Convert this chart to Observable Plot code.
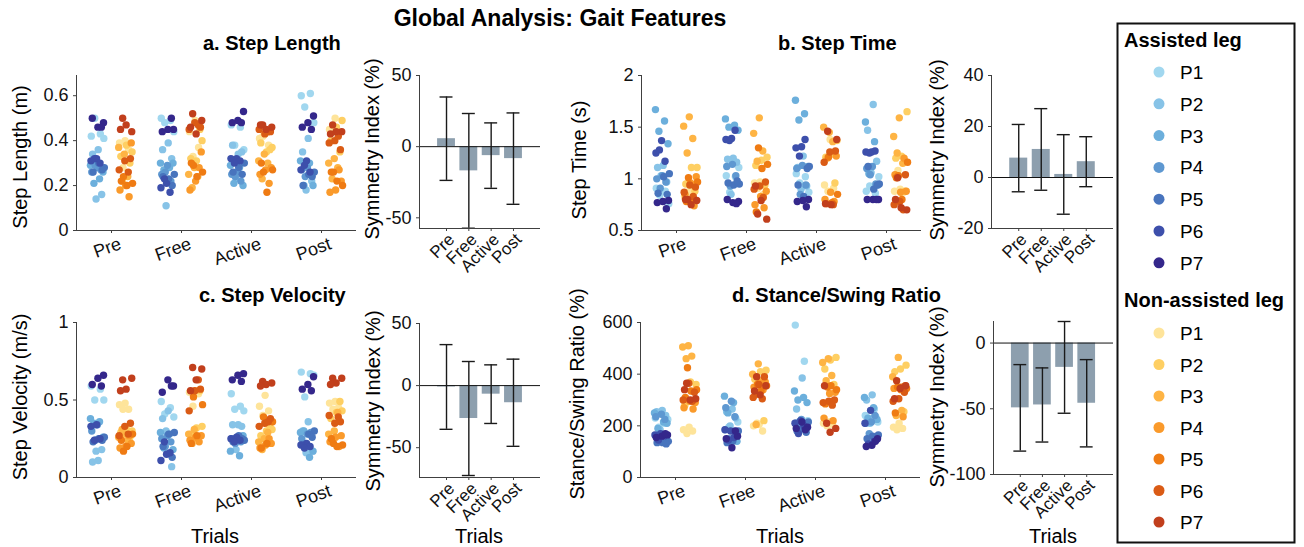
<!DOCTYPE html>
<html>
<head>
<meta charset="utf-8">
<script src="https://cdn.jsdelivr.net/npm/d3@7"></script>
<script src="https://cdn.jsdelivr.net/npm/@observablehq/plot@0.6"></script>
<style>
  html, body { margin: 0; padding: 0; background: #ffffff; }
  #root { position: relative; width: 1304px; height: 547px; overflow: hidden; background: #ffffff;
          font-family: "Liberation Sans", Arial, Helvetica, sans-serif; }
</style>
</head>
<body>
<div id="root"></div>
<script>
// ---------------- data ----------------
const trials = ["Pre", "Free", "Active", "Post"];
const participants = ["P1", "P2", "P3", "P4", "P5", "P6", "P7"];
const assistedColors = ["#a1d7ef", "#87c3e7", "#6cafdc", "#5e98d1", "#4874bd", "#3d4fab", "#34278b"];
const nonAssistedColors = ["#fee49a", "#fecf63", "#feb444", "#fa9a2b", "#ef7b13", "#da5b15", "#c13f1c"];

// values per trial (Pre, Free, Active, Post) -> per participant (P1..P7)
const stepLengthAssisted = [
  [[0.42,0.43,0.50,0.41],[0.36,0.34,0.16,0.14],[0.29,0.23,0.21,0.26],[0.28,0.26,0.27,0.29],[0.28,0.30,0.26,0.27],[0.32,0.31,0.30,0.32],[0.48,0.46,0.50,0.46]],
  [[0.50,0.49,0.48,0.44],[0.39,0.36,0.32,0.11],[0.30,0.28,0.27,0.30],[0.29,0.25,0.22,0.26],[0.25,0.23,0.24,0.20],[0.21,0.19,0.17,0.23],[0.45,0.45,0.44,0.50]],
  [[0.47,0.46,0.38,0.36],[0.34,0.38,0.35,0.23],[0.29,0.28,0.21,0.20],[0.26,0.25,0.22,0.24],[0.30,0.28,0.26,0.25],[0.32,0.32,0.31,0.30],[0.53,0.49,0.48,0.48]],
  [[0.60,0.61,0.55,0.48],[0.41,0.35,0.22,0.18],[0.31,0.30,0.20,0.20],[0.28,0.27,0.25,0.24],[0.26,0.25,0.20,0.24],[0.31,0.27,0.26,0.29],[0.51,0.48,0.46,0.45]]
];
const stepLengthNonAssisted = [
  [[0.40,0.39,0.36,0.28],[0.35,0.38,0.33,0.30],[0.34,0.37,0.24,0.22],[0.39,0.20,0.18,0.15],[0.24,0.21,0.20,0.22],[0.32,0.31,0.27,0.26],[0.50,0.44,0.47,0.45]],
  [[0.49,0.44,0.37,0.33],[0.40,0.31,0.32,0.45],[0.28,0.25,0.24,0.19],[0.35,0.22,0.18,0.28],[0.29,0.26,0.24,0.30],[0.46,0.48,0.45,0.47],[0.52,0.49,0.43,0.46]],
  [[0.43,0.41,0.38,0.42],[0.37,0.35,0.39,0.36],[0.34,0.31,0.30,0.23],[0.28,0.27,0.25,0.21],[0.26,0.27,0.17,0.30],[0.44,0.43,0.45,0.44],[0.47,0.46,0.45,0.47]],
  [[0.50,0.45,0.43,0.44],[0.49,0.46,0.40,0.35],[0.32,0.30,0.28,0.23],[0.22,0.18,0.17,0.27],[0.26,0.20,0.22,0.26],[0.36,0.40,0.39,0.42],[0.47,0.44,0.44,0.43]]
];
const stepTimeAssisted = [
  [[0.91,0.88,0.84,0.76],[1.13,1.11,0.97,1.03],[1.67,1.56,1.46,1.34],[1.03,1.00,0.97,0.91],[1.05,1.02,0.86,0.85],[1.37,1.25,1.17,1.28],[0.79,0.78,0.77,0.71]],
  [[1.03,1.02,0.87,1.11],[1.20,1.19,1.16,0.85],[1.58,1.52,1.50,1.47],[1.14,1.12,1.03,0.93],[0.95,0.94,0.96,0.98],[1.39,1.38,1.47,1.37],[0.78,0.77,0.80,0.76]],
  [[1.05,1.02,0.96,0.87],[1.22,1.11,0.93,0.90],[1.76,1.63,1.57,1.12],[1.13,1.10,0.94,0.85],[1.12,0.83,0.94,1.10],[1.31,1.30,1.38,1.22],[0.80,0.79,0.78,0.73]],
  [[0.88,0.86,0.93,1.02],[1.72,1.47,1.17,1.06],[1.55,1.36,1.05,0.94],[1.12,1.10,0.95,1.04],[0.95,0.90,1.12,0.94],[1.26,1.26,1.27,1.25],[0.80,0.80,0.80,0.80]]
];
const stepTimeNonAssisted = [
  [[0.90,0.83,0.93,0.86],[1.11,1.11,0.95,0.88],[1.60,1.51,1.39,1.25],[1.02,0.96,0.85,0.74],[1.01,0.97,0.80,0.78],[0.92,0.94,0.87,0.83],[0.80,0.79,0.75,0.80]],
  [[0.97,0.96,0.85,0.91],[1.21,1.18,1.13,0.94],[1.59,1.44,1.27,1.17],[0.88,0.83,0.75,0.72],[1.30,1.14,1.10,0.68],[0.97,0.93,0.90,0.82],[0.66,0.61,0.79,0.93]],
  [[1.38,0.94,0.91,0.88],[1.37,1.24,1.21,0.96],[1.45,1.50,1.36,1.20],[1.22,0.87,0.80,0.78],[1.21,0.85,0.77,0.76],[1.27,1.26,1.16,0.75],[1.46,1.38,0.75,0.76]],
  [[0.90,0.88,0.87,1.08],[1.65,1.22,1.20,0.88],[1.59,1.41,1.15,1.25],[0.88,0.87,1.04,1.20],[1.03,1.16,0.80,1.01],[1.04,0.78,0.75,0.70],[1.01,0.70,0.72,0.80]]
];
const stepVelocityAssisted = [
  [[0.59,0.57,0.50,0.50],[0.11,0.10,0.18,0.17],[0.38,0.36,0.35,0.26],[0.34,0.30,0.25,0.24],[0.26,0.25,0.23,0.24],[0.34,0.33,0.25,0.24],[0.66,0.64,0.60,0.59]],
  [[0.49,0.45,0.41,0.39],[0.43,0.38,0.07,0.30],[0.29,0.28,0.19,0.18],[0.27,0.25,0.23,0.20],[0.29,0.28,0.20,0.13],[0.15,0.11,0.16,0.23],[0.59,0.63,0.55,0.59]],
  [[0.54,0.46,0.44,0.43],[0.34,0.34,0.33,0.18],[0.17,0.14,0.24,0.27],[0.26,0.25,0.23,0.22],[0.24,0.27,0.23,0.25],[0.26,0.25,0.24,0.23],[0.67,0.66,0.63,0.62]],
  [[0.68,0.67,0.52,0.66],[0.36,0.30,0.17,0.16],[0.29,0.13,0.30,0.17],[0.28,0.25,0.29,0.22],[0.30,0.28,0.21,0.26],[0.22,0.21,0.20,0.19],[0.65,0.60,0.57,0.56]]
];
const stepVelocityNonAssisted = [
  [[0.48,0.47,0.44,0.44],[0.30,0.31,0.29,0.26],[0.28,0.26,0.24,0.31],[0.22,0.20,0.19,0.27],[0.17,0.28,0.20,0.24],[0.35,0.33,0.27,0.28],[0.63,0.64,0.57,0.56]],
  [[0.56,0.55,0.54,0.46],[0.33,0.32,0.28,0.56],[0.31,0.28,0.25,0.22],[0.27,0.26,0.24,0.23],[0.52,0.47,0.27,0.22],[0.57,0.56,0.43,0.63],[0.71,0.70,0.63,0.56]],
  [[0.53,0.46,0.43,0.40],[0.31,0.30,0.27,0.33],[0.25,0.23,0.29,0.18],[0.22,0.21,0.19,0.25],[0.39,0.36,0.22,0.19],[0.38,0.35,0.33,0.36],[0.62,0.61,0.60,0.59]],
  [[0.49,0.48,0.45,0.44],[0.43,0.42,0.38,0.49],[0.30,0.28,0.42,0.25],[0.27,0.26,0.23,0.20],[0.22,0.21,0.20,0.25],[0.36,0.35,0.40,0.39],[0.64,0.64,0.61,0.60]]
];
const stanceSwingAssisted = [
  [[230,210,195,225],[260,255,240,185],[250,215,190,210],[245,235,225,150],[140,135,135,130],[170,165,160,145],[165,160,155,170]],
  [[185,180,195,215],[265,255,230,200],[315,290,250,140],[295,270,235,150],[180,140,135,160],[180,185,155,145],[160,115,150,180]],
  [[590,450,215,220],[385,265,200,185],[335,310,300,290],[225,210,205,195],[215,190,180,175],[220,210,200,170],[195,215,190,185]],
  [[240,265,230,215],[320,300,235,210],[310,270,230,225],[215,210,240,170],[165,160,150,145],[260,210,140,130],[150,125,120,140]]
];
const stanceSwingNonAssisted = [
  [[195,185,180,170],[360,370,280,300],[510,505,470,460],[290,295,270,265],[425,340,335,310],[330,365,300,295],[365,305,300,340]],
  [[205,200,180,210],[415,410,380,220],[440,400,375,205],[370,365,350,340],[360,355,335,320],[390,360,310,305],[390,355,320,335]],
  [[215,210,205,200],[465,455,420,360],[460,445,395,375],[330,325,230,220],[350,340,355,285],[300,295,290,280],[210,190,175,355]],
  [[210,195,190,185],[435,420,410,255],[465,390,260,240],[355,350,345,235],[350,345,340,250],[330,305,295,350],[375,355,345,305]]
];

// symmetry index (%) mean and standard deviation per trial
const siStepLengthMean = [5.6, -17.0, -6.3, -8.4];
const siStepLengthSD = [29.3, 40.3, 23.0, 32.1];
const siStepTimeMean = [7.6, 11.0, 1.2, 6.2];
const siStepTimeSD = [13.2, 16.0, 15.6, 9.8];
const siStepVelocityMean = [-1.1, -26.5, -6.9, -13.8];
const siStepVelocitySD = [34.1, 45.9, 23.6, 35.1];
const siStanceSwingMean = [-49.3, -47.1, -18.5, -45.8];
const siStanceSwingSD = [32.9, 28.2, 34.9, 33.2];

// ---------------- drawing ----------------
const root = document.getElementById("root");
const FONT = "'Liberation Sans', Arial, Helvetica, sans-serif";
const AXIS = "#404040";
const BAR = "#8d9fae";

function place(node, left, top) {
  node.style.position = "absolute";
  node.style.left = left + "px";
  node.style.top = top + "px";
  node.style.background = "transparent";
  node.style.overflow = "visible";
  node.style.maxWidth = "none";
  root.appendChild(node);
}

function rowsFrom(assisted, nonAssisted) {
  const rows = [];
  [[assisted, -1, assistedColors], [nonAssisted, 1, nonAssistedColors]].forEach(([arr, side, colors]) => {
    arr.forEach((byP, ti) => {
      let k = 0;
      byP.forEach((vals, pi) => vals.forEach(v => rows.push({
        trial: ti + 1, side, participant: participants[pi], color: colors[pi], value: v, k: k++
      })));
    });
  });
  return rows;
}
// deterministic spread inside each strip (golden-ratio sequence)
const spread = d => (((d.k * 0.6180339887 + (d.side > 0 ? 0.45 : 0.1)) % 1) * 2 - 1);

const baseStyle = {background: "transparent", fontFamily: FONT, fontSize: "18px", color: "#111", overflow: "visible"};

function stripPlot(assisted, nonAssisted, fx0, fx1, fy0, fy1, yDomain, yTicks) {
  const ML = 70, MR = 12, MT = 8, MB = 45;
  const fw = fx1 - fx0, fh = fy1 - fy0;
  const rows = rowsFrom(assisted, nonAssisted);
  const node = Plot.plot({
    width: ML + fw + MR, height: MT + fh + MB,
    marginLeft: ML, marginRight: MR, marginTop: MT, marginBottom: MB,
    style: baseStyle,
    x: {domain: [0.5, 4.5], axis: null},
    y: {domain: yDomain},
    marks: [
      Plot.ruleY([yDomain[0]], {stroke: AXIS, strokeWidth: 1}),
      Plot.ruleX([0.5], {stroke: AXIS, strokeWidth: 1}),
      Plot.ruleX([1, 2, 3, 4], {x: d => d, insetTop: fh, insetBottom: -3, stroke: AXIS}),
      Plot.axisY(yTicks, {tickSize: 3, tickPadding: 5, tickFormat: d => String(d), label: null, stroke: AXIS, fontSize: 18}),
      Plot.dot(rows, {
        x: d => d.trial + d.side * 0.205 + spread(d) * 0.105,
        y: "value", r: 3.7, fill: d => d.color, stroke: "none"
      }),
      Plot.text(trials, {
        x: (d, i) => i + 1, text: d => d, frameAnchor: "bottom",
        rotate: -20, textAnchor: "end", lineAnchor: "bottom", dx: 11, dy: 18, fontSize: 18, fill: "#111"
      })
    ]
  });
  place(node, fx0 - ML, fy0 - MT);
}

function barPlot(means, sds, fx0, fx1, fy0, fy1, yDomain, yTicks) {
  const ML = 70, MR = 12, MT = 8, MB = 50;
  const fw = fx1 - fx0, fh = fy1 - fy0;
  const rows = trials.map((t, i) => ({trial: t, i: i + 1, mean: means[i], sd: sds[i]}));
  const node = Plot.plot({
    width: ML + fw + MR, height: MT + fh + MB,
    marginLeft: ML, marginRight: MR, marginTop: MT, marginBottom: MB,
    style: baseStyle,
    x: {domain: [-0.21, 5.21], axis: null},
    y: {domain: yDomain},
    marks: [
      Plot.rectY(rows, {x1: d => d.i - 0.4, x2: d => d.i + 0.4, y1: 0, y2: "mean", fill: BAR}),
      Plot.ruleY([0], {stroke: "#111", strokeWidth: 1}),
      Plot.ruleX(rows, {x: "i", y1: d => d.mean - d.sd, y2: d => d.mean + d.sd, stroke: "#1a1a1a", strokeWidth: 1.4}),
      Plot.ruleY(rows, {x1: d => d.i - 0.29, x2: d => d.i + 0.29, y: d => d.mean + d.sd, stroke: "#1a1a1a", strokeWidth: 1.4}),
      Plot.ruleY(rows, {x1: d => d.i - 0.29, x2: d => d.i + 0.29, y: d => d.mean - d.sd, stroke: "#1a1a1a", strokeWidth: 1.4}),
      Plot.ruleY([yDomain[0]], {stroke: AXIS, strokeWidth: 1}),
      Plot.ruleX([-0.21], {stroke: AXIS, strokeWidth: 1}),
      Plot.ruleX(rows, {x: "i", insetTop: fh, insetBottom: -3, stroke: AXIS}),
      Plot.axisY(yTicks, {tickSize: 3, tickPadding: 5, tickFormat: d => String(d), label: null, stroke: AXIS, fontSize: 18}),
      Plot.text(rows, {
        x: "i", text: "trial", frameAnchor: "bottom",
        rotate: -45, textAnchor: "end", lineAnchor: "bottom", dx: 9, dy: 12, fontSize: 17, fill: "#111"
      })
    ]
  });
  place(node, fx0 - ML, fy0 - MT);
}

stripPlot(stepLengthAssisted, stepLengthNonAssisted, 76, 356, 75, 230, [0, 0.69], [0, 0.2, 0.4, 0.6]);
stripPlot(stepTimeAssisted, stepTimeNonAssisted, 641, 921, 75, 230, [0.5, 2], [0.5, 1, 1.5, 2]);
stripPlot(stepVelocityAssisted, stepVelocityNonAssisted, 76, 356, 322, 477, [0, 1], [0, 0.5, 1]);
stripPlot(stanceSwingAssisted, stanceSwingNonAssisted, 640, 920, 322, 477, [0, 600], [0, 200, 400, 600]);

barPlot(siStepLengthMean, siStepLengthSD, 419, 540, 75, 228, [-57.5, 50], [-50, 0, 50]);
barPlot(siStepTimeMean, siStepTimeSD, 991, 1113, 75, 228, [-20, 40], [-20, 0, 20, 40]);
barPlot(siStepVelocityMean, siStepVelocitySD, 419, 540, 323, 477, [-74, 50], [-50, 0, 50]);
barPlot(siStanceSwingMean, siStanceSwingSD, 993, 1113, 321, 474, [-100, 16.4], [-100, -50, 0]);

// ---------------- titles, labels, legend ----------------
const overlay = d3.select(root).append("svg")
  .attr("width", 1304).attr("height", 547)
  .style("position", "absolute").style("left", "0px").style("top", "0px")
  .style("font-family", FONT).style("pointer-events", "none");

const texts = [
  {t: "Global Analysis: Gait Features", x: 560, y: 26, s: 23, w: "bold", a: "middle"},
  {t: "a. Step Length", x: 203, y: 50, s: 20, w: "bold", a: "start"},
  {t: "b. Step Time", x: 778, y: 50, s: 20, w: "bold", a: "start"},
  {t: "c. Step Velocity", x: 199, y: 302, s: 20, w: "bold", a: "start"},
  {t: "d. Stance/Swing Ratio", x: 732, y: 302, s: 20, w: "bold", a: "start"},
  {t: "Trials", x: 215, y: 543, s: 20, a: "middle"},
  {t: "Trials", x: 780, y: 543, s: 20, a: "middle"},
  {t: "Trials", x: 479, y: 543, s: 20, a: "middle"},
  {t: "Trials", x: 1053, y: 543, s: 20, a: "middle"},
  {t: "Step Length (m)", x: 27, y: 157, s: 20, a: "middle", r: -90},
  {t: "Step Time (s)", x: 586, y: 160, s: 20, a: "middle", r: -90},
  {t: "Step Velocity (m/s)", x: 27, y: 397, s: 20, a: "middle", r: -90},
  {t: "Stance/Swing Ratio (%)", x: 584, y: 394, s: 20, a: "middle", r: -90},
  {t: "Symmetry Index (%)", x: 379, y: 149, s: 20, a: "middle", r: -90},
  {t: "Symmetry Index (%)", x: 944, y: 150, s: 20, a: "middle", r: -90},
  {t: "Symmetry Index (%)", x: 380, y: 401, s: 20, a: "middle", r: -90},
  {t: "Symmetry Index (%)", x: 944, y: 397, s: 20, a: "middle", r: -90}
];
overlay.selectAll("text.lbl").data(texts).join("text")
  .attr("class", "lbl")
  .attr("transform", d => `translate(${d.x},${d.y})` + (d.r ? ` rotate(${d.r})` : ""))
  .attr("text-anchor", d => d.a)
  .attr("font-size", d => d.s)
  .attr("font-weight", d => d.w || "normal")
  .attr("fill", "#000")
  .text(d => d.t);

// legend
const lg = overlay.append("g");
lg.append("rect").attr("x", 1117.5).attr("y", 23.5).attr("width", 177).attr("height", 519)
  .attr("fill", "none").attr("stroke", "#111").attr("stroke-width", 2);
const groups = [
  {title: "Assisted leg", titleY: 47, y0: 72, step: 31.8, colors: assistedColors},
  {title: "Non-assisted leg", titleY: 307, y0: 333, step: 31.5, colors: nonAssistedColors}
];
groups.forEach(g => {
  lg.append("text").attr("x", 1124).attr("y", g.titleY).attr("font-size", 20).attr("font-weight", "bold")
    .attr("fill", "#000").text(g.title);
  participants.forEach((p, i) => {
    const cy = g.y0 + i * g.step;
    lg.append("circle").attr("cx", 1159).attr("cy", cy).attr("r", 5.5).attr("fill", g.colors[i]);
    lg.append("text").attr("x", 1180).attr("y", cy + 7).attr("font-size", 19).attr("fill", "#000").text(p);
  });
});
</script>
</body>
</html>
